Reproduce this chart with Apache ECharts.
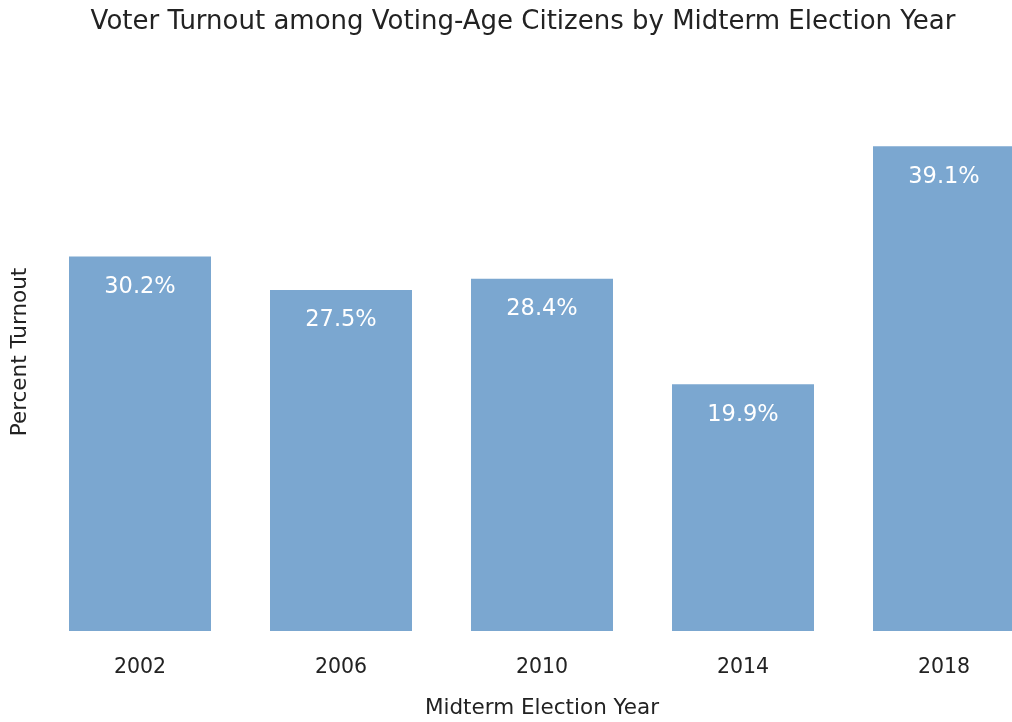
<!DOCTYPE html>
<html>
<head>
<meta charset="utf-8">
<script src="https://cdn.jsdelivr.net/npm/echarts@6/dist/echarts.min.js"></script>
<style>
  html, body { margin: 0; padding: 0; background: #fff; }
  #main { width: 1012px; height: 722px; }
</style>
</head>
<body>
<div id="main"></div>
<script>
const years = ['2002', '2006', '2010', '2014', '2018']
const turnout = [30.2, 27.5, 28.4, 19.9, 39.1]

const chart = echarts.init(document.getElementById('main'))
chart.setOption({
  animation: false,
  title: {
    text: 'Voter Turnout among Voting-Age Citizens by Midterm Election Year',
    left: 518,
    textAlign: 'center',
    top: 4,
    textStyle: { fontFamily: 'DejaVu Sans', fontWeight: 'normal', fontSize: 26, color: '#222' }
  },
  // grid runs past the right edge so the last bar is cut off like in the original
  grid: { left: 39.5, right: -32.5, top: 73, bottom: 91, outerBoundsMode: 'none' },
  xAxis: {
    type: 'category',
    data: years,
    name: 'Midterm Election Year',
    nameLocation: 'middle',
    nameGap: 66,
    nameTextStyle: { fontFamily: 'DejaVu Sans', fontSize: 21.5, color: '#222' },
    axisLine: { show: false },
    axisTick: { show: false },
    axisLabel: { margin: 26, fontFamily: 'DejaVu Sans', fontSize: 20.5, color: '#222' }
  },
  yAxis: {
    type: 'value',
    min: 0,
    max: 45,
    name: 'Percent Turnout',
    nameLocation: 'middle',
    nameGap: 8.5,
    nameTextStyle: { fontFamily: 'DejaVu Sans', fontSize: 21.5, color: '#222' },
    axisLine: { show: false },
    axisTick: { show: false },
    axisLabel: { show: false },
    splitLine: { show: false }
  },
  series: [{
    type: 'bar',
    data: turnout,
    barWidth: 142,
    itemStyle: { color: '#7BA7D0' },
    label: {
      show: true,
      position: 'insideTop',
      distance: 19,
      formatter: p => p.value.toFixed(1) + '%',
      fontFamily: 'DejaVu Sans',
      fontSize: 22.5,
      color: '#fff'
    }
  }]
})
</script>
</body>
</html>
